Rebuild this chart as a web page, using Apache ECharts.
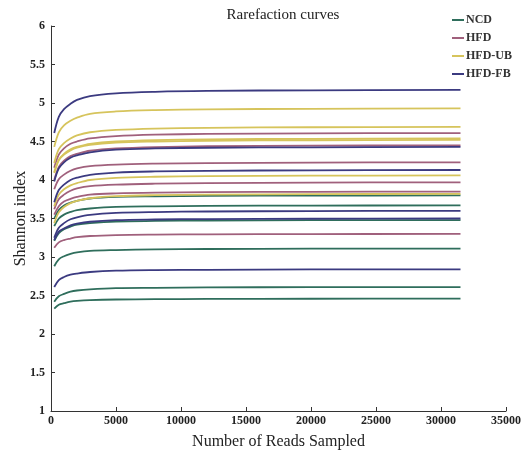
<!DOCTYPE html>
<html><head><meta charset="utf-8">
<script src="https://cdn.jsdelivr.net/npm/echarts@6/dist/echarts.min.js"></script>
<style>html,body{margin:0;padding:0;background:#fff}#c{width:529px;height:455px}</style>
</head><body><div id="c"></div>
<script>
var groups = ['NCD', 'HFD', 'HFD-UB', 'HFD-FB'];
var colors = ['#2f6e5c', '#a0607c', '#d6c45c', '#3b3a80'];
var readsSampled = [250, 600, 1000, 1500, 2000, 3000, 5000, 8000, 12000, 20000, 31500];
var xTicks = [0, 5000, 10000, 15000, 20000, 25000, 30000, 35000];
var yTicks = [1, 1.5, 2, 2.5, 3, 3.5, 4, 4.5, 5, 5.5, 6];

var ncdCurves = [
  [3.50,3.61,3.67,3.705,3.73,3.76,3.78,3.788,3.794,3.798,3.80],
  [3.40,3.50,3.55,3.585,3.61,3.63,3.65,3.658,3.664,3.668,3.67],
  [3.21,3.31,3.36,3.395,3.42,3.44,3.46,3.468,3.474,3.478,3.48],
  [2.88,2.97,3.01,3.04,3.06,3.08,3.09,3.098,3.104,3.108,3.11],
  [2.42,2.49,2.52,2.55,2.565,2.58,2.595,2.60,2.605,2.608,2.61],
  [2.33,2.38,2.40,2.42,2.43,2.44,2.448,2.452,2.455,2.458,2.46]
];
var hfdCurves = [
  [4.16,4.33,4.41,4.47,4.50,4.54,4.57,4.588,4.598,4.606,4.61],
  [4.00,4.17,4.25,4.31,4.34,4.38,4.41,4.428,4.438,4.446,4.45],
  [3.88,4.01,4.07,4.12,4.15,4.18,4.20,4.212,4.22,4.226,4.23],
  [3.62,3.75,3.81,3.86,3.89,3.92,3.94,3.952,3.96,3.966,3.97],
  [3.55,3.66,3.72,3.755,3.78,3.81,3.826,3.836,3.842,3.847,3.85],
  [3.12,3.19,3.22,3.24,3.257,3.273,3.285,3.291,3.295,3.298,3.30]
];
var hfdUbCurves = [
  [4.43,4.62,4.71,4.77,4.81,4.86,4.89,4.907,4.917,4.925,4.93],
  [4.22,4.40,4.48,4.54,4.58,4.62,4.65,4.668,4.678,4.685,4.69],
  [4.09,4.26,4.34,4.40,4.43,4.47,4.50,4.518,4.528,4.535,4.54],
  [4.10,4.26,4.33,4.385,4.42,4.457,4.486,4.50,4.51,4.516,4.52],
  [3.66,3.81,3.88,3.93,3.96,4.00,4.028,4.042,4.05,4.056,4.06],
  [3.44,3.58,3.65,3.70,3.73,3.763,3.79,3.803,3.81,3.816,3.82]
];
var hfdFbCurves = [
  [4.61,4.82,4.92,4.99,5.04,5.09,5.125,5.145,5.157,5.165,5.17],
  [3.98,4.15,4.23,4.29,4.32,4.36,4.394,4.41,4.419,4.425,4.43],
  [3.71,3.87,3.94,4.00,4.03,4.067,4.096,4.111,4.119,4.126,4.13],
  [3.25,3.38,3.44,3.49,3.516,3.547,3.572,3.584,3.591,3.596,3.60],
  [3.22,3.33,3.37,3.41,3.433,3.458,3.478,3.487,3.493,3.497,3.50],
  [2.61,2.70,2.74,2.77,2.785,2.805,2.822,2.83,2.834,2.838,2.84]
];
var allCurves = [ncdCurves, hfdCurves, hfdUbCurves, hfdFbCurves];

var series = [];
allCurves.forEach(function (set, gi) {
  set.forEach(function (vals) {
    series.push({
      name: groups[gi], type: 'line', showSymbol: false, symbol: 'none',
      smooth: 0.35,
      lineStyle: { width: 1.8, color: colors[gi] },
      itemStyle: { color: colors[gi] },
      data: readsSampled.map(function (x, i) { return [x, vals[i]]; })
    });
  });
});

var font = 'Liberation Serif, Times New Roman, serif';
var chart = echarts.init(document.getElementById('c'), null, { renderer: 'canvas' });
chart.setOption({
  animation: false,
  backgroundColor: '#fff',
  title: { text: 'Rarefaction curves', left: 278, top: 3, textAlign: 'center',
    textStyle: { fontFamily: font, fontSize: 15, fontWeight: 'normal', color: '#222' } },
  legend: { data: groups, orient: 'vertical', left: 447, top: 9, itemGap: 6,
    icon: 'rect', itemWidth: 12, itemHeight: 2,
    textStyle: { fontFamily: font, fontSize: 12, fontWeight: 'bold', color: '#333', padding: [0,0,0,-3] } },
  grid: { left: 51, right: 23, top: 26, bottom: 44, containLabel: false, outerBoundsMode: 'none' },
  xAxis: { type: 'value', min: 0, max: 35000, interval: 5000,
    name: 'Number of Reads Sampled', nameLocation: 'middle', nameGap: 23, nameMoveOverlap: false,
    nameTextStyle: { fontFamily: font, fontSize: 16, color: '#222' },
    axisLine: { lineStyle: { color: '#333', width: 1 } },
    axisTick: { inside: true, length: 4, lineStyle: { color: '#333' } },
    axisLabel: { fontFamily: font, fontSize: 12, fontWeight: 'bold', color: '#222', margin: 4,
      formatter: function (v) { return xTicks.indexOf(v) >= 0 ? String(v) : ''; } },
    splitLine: { show: false } },
  yAxis: { type: 'value', min: 1, max: 6, interval: 0.5,
    name: 'Shannon index', nameLocation: 'middle', nameGap: 22, nameMoveOverlap: false,
    nameTextStyle: { fontFamily: font, fontSize: 16, color: '#222' },
    axisLine: { show: true, lineStyle: { color: '#333', width: 1 } },
    axisTick: { show: true, inside: true, length: 4, lineStyle: { color: '#333' } },
    axisLabel: { fontFamily: font, fontSize: 12, fontWeight: 'bold', color: '#222', margin: 6,
      formatter: function (v) { return yTicks.indexOf(v) >= 0 ? String(v) : ''; } },
    splitLine: { show: false } },
  series: series
});
</script></body></html>
